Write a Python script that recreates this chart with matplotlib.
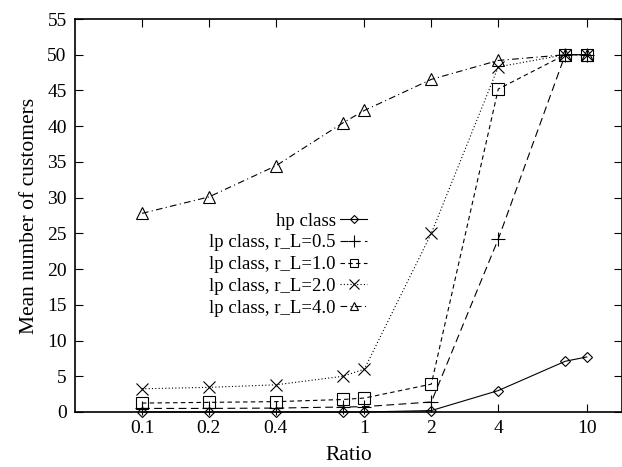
import matplotlib
matplotlib.use('Agg')
import matplotlib.pyplot as plt
from matplotlib.ticker import FixedLocator, NullLocator, FixedFormatter

plt.rcParams['font.family'] = ['Liberation Serif', 'DejaVu Serif']

# ratio values on the x axis
ratio = [0.1, 0.2, 0.4, 0.8, 1, 2, 4, 8, 10]

# mean number of customers per series
hp_class = [0.0, 0.0, 0.0, 0.0, 0.0, 0.2, 3.0, 7.1, 7.7]
lp_r05 = [0.5, 0.5, 0.55, 0.7, 0.75, 1.4, 24.2, 50.0, 50.0]
lp_r10 = [1.25, 1.35, 1.45, 1.75, 1.95, 3.9, 45.2, 50.0, 50.0]
lp_r20 = [3.25, 3.45, 3.8, 5.0, 6.0, 25.0, 48.3, 50.0, 50.0]
lp_r40 = [27.8, 30.1, 34.45, 40.45, 42.2, 46.55, 49.2, 50.0, 50.0]

labels = ['hp class', 'lp class, r_L=0.5', 'lp class, r_L=1.0',
          'lp class, r_L=2.0', 'lp class, r_L=4.0']
xticks = [0.1, 0.2, 0.4, 1, 2, 4, 10]
xtick_labels = ['0.1', '0.2', '0.4', '1', '2', '4', '10']

fig = plt.figure(figsize=(6.22, 4.67), dpi=100)
ax = fig.add_axes([75 / 622, 1 - 412 / 467, 547 / 622, 393 / 467])

series = [hp_class, lp_r05, lp_r10, lp_r20, lp_r40]
markers = ['D', '+', 's', 'x', '^']
msizes = [5.5, 10, 8, 9, 8]
styles = ['-', (0, (7, 4)), (0, (4, 3)), (0, (1, 2)), (0, (6, 3, 1, 3))]

for y, m, ms, ls, lab in zip(series, markers, msizes, styles, labels):
    ax.plot(ratio, y, color='black', linestyle=ls, linewidth=0.8,
            marker=m, markersize=ms,
            markerfacecolor='none', markeredgecolor='black',
            markeredgewidth=0.8, label=lab, clip_on=False)

ax.set_xscale('log')
ax.set_xlim(0.05, 14.4)
ax.set_ylim(0, 55)
ax.xaxis.set_major_locator(FixedLocator(xticks))
ax.xaxis.set_major_formatter(FixedFormatter(xtick_labels))
ax.xaxis.set_minor_locator(NullLocator())
ax.set_yticks(range(0, 56, 5))

ax.tick_params(direction='in', top=True, right=True, length=6,
               width=0.8, labelsize=14, pad=6)
for sp in ax.spines.values():
    sp.set_linewidth(1.2)

ax.set_xlabel('Ratio', fontsize=15.5, labelpad=6)
ax.set_ylabel('Mean number of customers', fontsize=15.5, labelpad=6)

leg = ax.legend(loc='upper right', bbox_to_anchor=(0.547, 0.527),
                markerfirst=False, frameon=False, fontsize=13.5,
                handlelength=1.4, handletextpad=0.25, labelspacing=0.25,
                numpoints=1, borderaxespad=0, markerscale=0.8)
for t in leg.get_texts():
    t.set_ha('right')

fig.savefig('out.png', dpi=100)
